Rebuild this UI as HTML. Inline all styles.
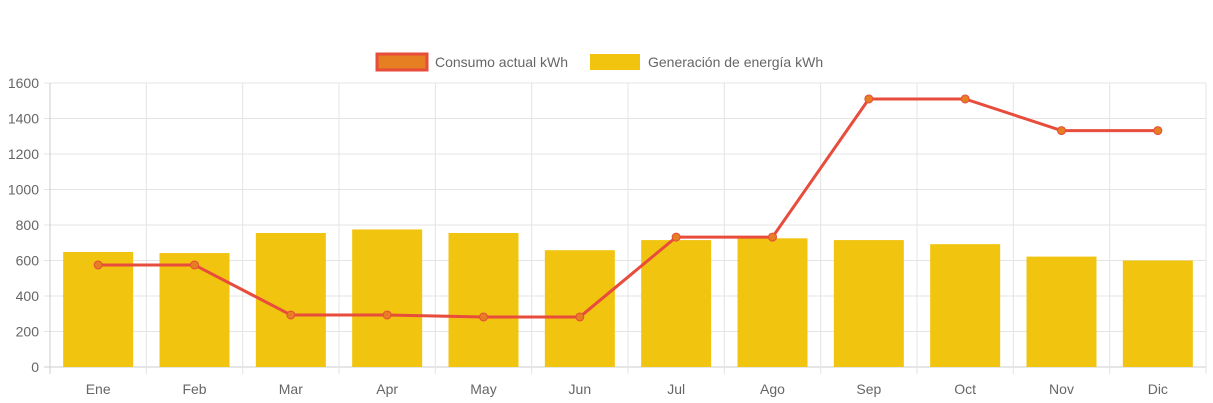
<!DOCTYPE html>
<html><head><meta charset="utf-8"><style>
body{margin:0;background:#fff;}
svg{display:block;font-family:"Liberation Sans",sans-serif;}
</style></head><body>
<svg id="c" width="1213" height="403">
<g id="legend">
<g>
<rect x="377" y="54" width="50" height="16" fill="#e67e22" stroke="#e74c3c" stroke-width="3"/>
<text x="435" y="67" font-size="14" fill="#666">Consumo actual kWh</text></g>
<g>
<rect x="590" y="54" width="50" height="16" fill="#f1c40f"/>
<text x="648" y="67" font-size="14" fill="#666">Generación de energía kWh</text></g>
</g>
<g id="grid"></g><g id="bars"></g><g id="line"></g><g id="axes"></g>
</svg>
<script>
const categories=["Ene","Feb","Mar","Apr","May","Jun","Jul","Ago","Sep","Oct","Nov","Dic"];
const generacion=[648,642,755,775,755,658,715,725,715,692,622,600];
const consumo=[575,575,293,293,282,282,732,732,1510,1510,1332,1332];
const yTicks=[0,200,400,600,800,1000,1200,1400,1600];
const L=50,R=1206,T=83,B=367,YMAX=1600;
const bw=(R-L)/categories.length;
const x=i=>L+bw*(i+0.5);
const y=v=>B-(v/YMAX)*(B-T);
const ns="http://www.w3.org/2000/svg";
function mk(t,a,p){const e=document.createElementNS(ns,t);for(const k in a)e.setAttribute(k,a[k]);p.appendChild(e);return e;}
const grid=document.getElementById('grid'),bars=document.getElementById('bars'),line=document.getElementById('line'),axes=document.getElementById('axes');
yTicks.forEach(v=>{
 const g=mk('line',{x1:L-6,x2:R,y1:y(v),y2:y(v),stroke:v===0?'#ccc':'#e4e4e4','stroke-width':1},grid);
 
 
 const t=mk('text',{x:L-11,y:y(v)+5,'text-anchor':'end','font-size':14,fill:'#666'},axes);
 t.textContent=v;
 
 
});
for(let i=0;i<=categories.length;i++){
 const g=mk('line',{x1:L+bw*i,x2:L+bw*i,y1:T,y2:B+7,stroke:i===0?'#ccc':'#e4e4e4','stroke-width':1},grid);
 
 
}
categories.forEach((c,i)=>{
 const r=mk('rect',{x:x(i)-35,y:y(generacion[i]),width:70,height:B-y(generacion[i]),fill:'#f1c40f'},bars);
 
 
 const t=mk('text',{x:x(i),y:B+27,'text-anchor':'middle','font-size':14,fill:'#666'},axes);
 t.textContent=c;
 
 
});
const p=mk('polyline',{points:consumo.map((v,i)=>x(i)+','+y(v)).join(' '),fill:'none',stroke:'#e74c3c','stroke-width':3},line);


consumo.forEach((v,i)=>{
 const c=mk('circle',{cx:x(i),cy:y(v),r:4,fill:'#e67e22',stroke:'#e74c3c','stroke-width':1},line);
 
 
});
</script>
</body></html>
